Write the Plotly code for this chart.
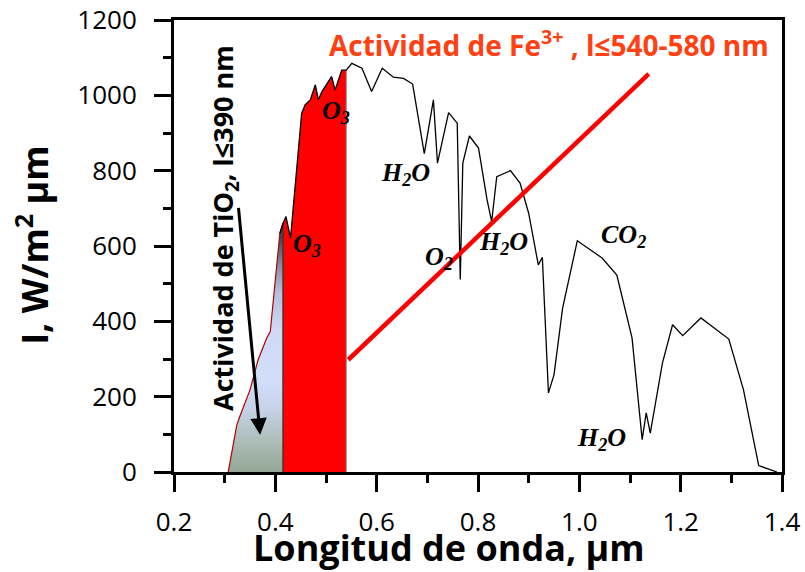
import plotly.graph_objects as go
import numpy as np

# ---- data ----
wavelength_um = [0.307, 0.324, 0.330, 0.350, 0.366, 0.383, 0.390, 0.409, 0.415, 0.421,
                 0.430, 0.452, 0.459, 0.469, 0.479, 0.485, 0.492, 0.511, 0.518, 0.531,
                 0.540, 0.551, 0.571, 0.590, 0.611, 0.633, 0.653, 0.671, 0.694, 0.712,
                 0.720, 0.742, 0.759, 0.765, 0.770, 0.783, 0.801, 0.818, 0.827, 0.837,
                 0.864, 0.883, 0.900, 0.919, 0.927, 0.939, 0.950, 0.967, 0.996, 1.045,
                 1.074, 1.104, 1.124, 1.132, 1.140, 1.164, 1.184, 1.204, 1.240, 1.295,
                 1.324, 1.354, 1.390]
irradiance = [0, 125, 148, 218, 298, 356, 373, 634, 660, 678,
              621, 953, 975, 988, 1028, 988, 1010, 1050, 1014, 1067,
              1067, 1085, 1072, 1010, 1072, 1048, 1045, 1030, 845, 988,
              820, 954, 926, 511, 820, 892, 860, 722, 665, 784,
              800, 767, 687, 550, 570, 210, 258, 435, 614, 568,
              523, 356, 86, 157, 103, 289, 391, 362, 409, 353,
              218, 17, 0]

tio2_limit = 0.415      # end of TiO2 band (um)
fe_limit = 0.540        # end of Fe3+ band (um)

fe_line_x = [0.544, 1.137]
fe_line_y = [298, 1057]

arrow_tail = (0.327, 705)
arrow_head = (0.370, 99)

mol_labels = ["O<sub>3</sub>", "O<sub>3</sub>", "H<sub>2</sub>O", "O<sub>2</sub>",
              "H<sub>2</sub>O", "CO<sub>2</sub>", "H<sub>2</sub>O"]
mol_x = [0.520, 0.463, 0.656, 0.723, 0.850, 1.087, 1.043]
mol_y = [956, 603, 791, 569, 608, 626, 88]

x_ticks = [0.2, 0.4, 0.6, 0.8, 1.0, 1.2, 1.4]
y_ticks = [0, 200, 400, 600, 800, 1000, 1200]

# ---- figure ----
wl = np.array(wavelength_um)
ir = np.array(irradiance)
blue_mask = wl <= tio2_limit
red_mask = (wl >= tio2_limit) & (wl <= fe_limit)

fig = go.Figure()

fig.add_trace(go.Scatter(
    x=wl[blue_mask], y=ir[blue_mask], mode="lines", fill="tozeroy",
    line=dict(width=1.2, color="#b00000"),
    fillgradient=dict(type="vertical", start=0, stop=680,
                      colorscale=[[0.0, "#93a795"], [0.12, "#adbdb8"], [0.25, "#c6d3ea"],
                                  [0.35, "#d2ddf8"], [0.55, "#cfdaf6"], [0.70, "#b6c0dc"],
                                  [0.80, "#8a92a8"], [0.90, "#4a5262"], [1.0, "#1e2228"]]),
    hoverinfo="skip", showlegend=False))

fig.add_trace(go.Scatter(
    x=wl[red_mask], y=ir[red_mask], mode="lines", fill="tozeroy",
    fillcolor="#ff0000", line=dict(width=0, color="#ff0000"),
    hoverinfo="skip", showlegend=False))

# band edges
b_idx = int(np.where(wl == tio2_limit)[0][0])
r_idx = int(np.where(wl == fe_limit)[0][0])
fig.add_trace(go.Scatter(x=[wl[b_idx], wl[b_idx]], y=[0, ir[b_idx]], mode="lines",
                         line=dict(color="#303030", width=1.2), hoverinfo="skip", showlegend=False))
fig.add_trace(go.Scatter(x=[wl[r_idx], wl[r_idx]], y=[0, ir[r_idx]], mode="lines",
                         line=dict(color="#909090", width=1), hoverinfo="skip", showlegend=False))

# spectrum
fig.add_trace(go.Scatter(x=wl[wl >= tio2_limit - 0.01], y=ir[wl >= tio2_limit - 0.01], mode="lines",
                         line=dict(color="black", width=1.3), hoverinfo="skip", showlegend=False))

# Fe3+ red line
fig.add_trace(go.Scatter(x=fe_line_x, y=fe_line_y, mode="lines",
                         line=dict(color="#ff0000", width=4.5), hoverinfo="skip", showlegend=False))

annotations = []
for t, xx, yy in zip(mol_labels, mol_x, mol_y):
    annotations.append(dict(x=xx, y=yy, xref="x", yref="y", text="<b><i>" + t + "</i></b>",
                            showarrow=False, xanchor="center", yanchor="middle",
                            font=dict(family="Liberation Serif", size=26, color="black")))

annotations.append(dict(x=arrow_head[0], y=arrow_head[1], ax=arrow_tail[0], ay=arrow_tail[1],
                        xref="x", yref="y", axref="x", ayref="y", text="", showarrow=True,
                        arrowhead=2, arrowsize=1.1, arrowwidth=3, arrowcolor="black"))

annotations.append(dict(x=0.617, y=0.947, xref="paper", yref="paper",
                        text="<b>Actividad de Fe<sup>3+</sup> , l≤540-580 nm</b>",
                        showarrow=False, xanchor="center", yanchor="middle",
                        font=dict(family="Open Sans", size=28, color="#ff4013")))

annotations.append(dict(x=0.084, y=0.540, xref="paper", yref="paper",
                        text="<b>Actividad de TiO<sub>2</sub>, l≤390 nm</b>", textangle=-90,
                        showarrow=False, xanchor="center", yanchor="middle",
                        font=dict(family="Open Sans", size=27, color="black")))

annotations.append(dict(x=0.452, y=-0.168, xref="paper", yref="paper",
                        text="<b>Longitud de onda, µm</b>",
                        showarrow=False, xanchor="center", yanchor="middle",
                        font=dict(family="Open Sans", size=36, color="black")))

annotations.append(dict(x=-0.234, y=0.502, xref="paper", yref="paper",
                        text="<b>I, W/m<sup>2</sup> µm</b>", textangle=-90,
                        showarrow=False, xanchor="center", yanchor="middle",
                        font=dict(family="Open Sans", size=36, color="black")))

axis_common = dict(showgrid=False, zeroline=False, showline=True, linecolor="black",
                   linewidth=3, mirror=True, ticks="outside", ticklen=17, tickwidth=3,
                   tickcolor="black", automargin=False,
                   tickfont=dict(family="Open Sans", size=26, color="black"))

fig.update_layout(
    width=805, height=572,
    margin=dict(l=174, r=23, t=20, b=100),
    paper_bgcolor="white", plot_bgcolor="white",
    xaxis=dict(range=[0.2, 1.4], tickvals=x_ticks, ticktext=[f"{v:.1f}" for v in x_ticks],
               ticklabelstandoff=8,
               minor=dict(dtick=0.1, tick0=0.2, ticks="outside", ticklen=8, tickwidth=3,
                          tickcolor="black", showgrid=False),
               **axis_common),
    yaxis=dict(range=[0, 1200], tickvals=y_ticks, ticklabelstandoff=12,
               minor=dict(dtick=100, tick0=0, ticks="outside", ticklen=8, tickwidth=3,
                          tickcolor="black", showgrid=False),
               **axis_common),
    annotations=annotations,
)

fig.write_html("out.html")
